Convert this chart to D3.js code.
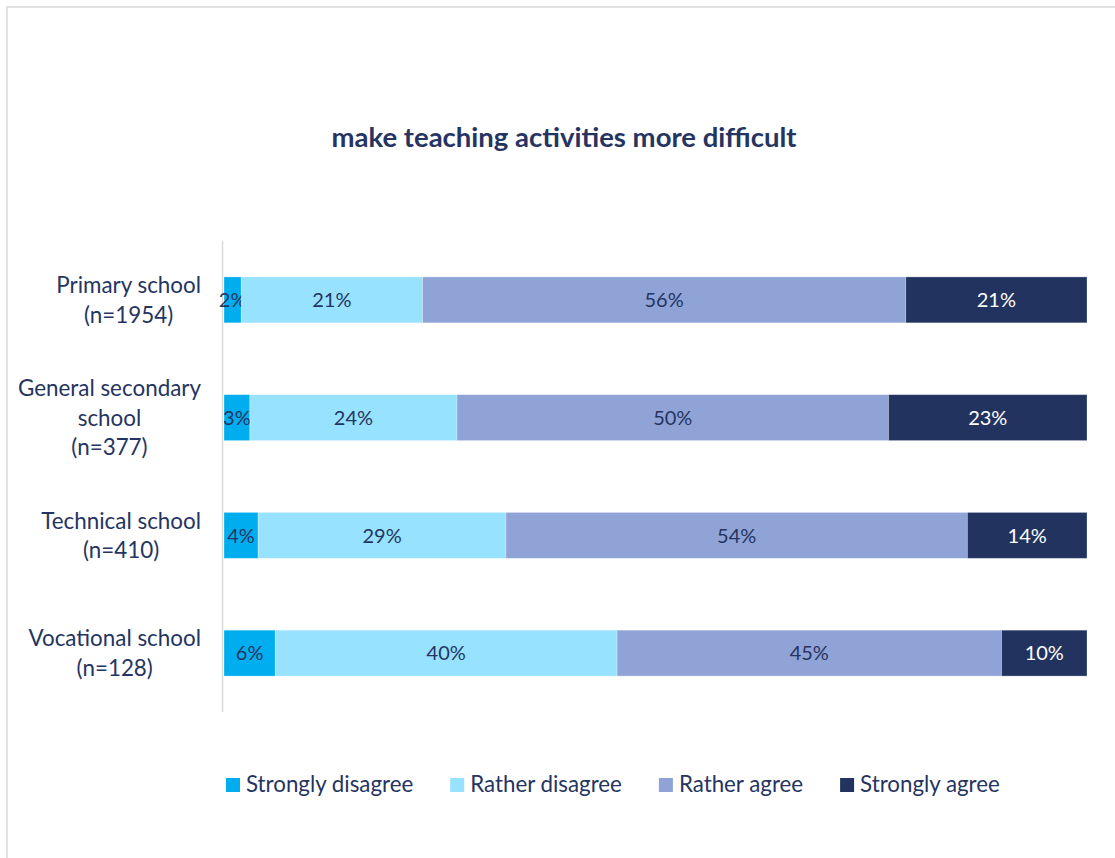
<!DOCTYPE html>
<html>
<head>
<meta charset="utf-8">
<script src="https://cdn.jsdelivr.net/npm/d3@7"></script>
<style>
  html, body { margin: 0; padding: 0; background: #ffffff; }
  svg { display: block; }
</style>
</head>
<body>
<svg id="chart" width="1115" height="858"></svg>
<script>
// Survey responses by school type (percent of respondents)
const categories = ["Primary school", "General secondary school", "Technical school", "Vocational school"];
const sampleSizes = [1954, 377, 410, 128];
const seriesNames = ["Strongly disagree", "Rather disagree", "Rather agree", "Strongly agree"];
const stronglyDisagree = [2, 3, 4, 6];
const ratherDisagree = [21, 24, 29, 40];
const ratherAgree = [56, 50, 54, 45];
const stronglyAgree = [21, 23, 14, 10];
const seriesColors = ["#00AEEF", "#97E2FF", "#8FA3D6", "#22335F"];
const labelColors = ["#253461", "#253461", "#253461", "#FFFFFF"];
const chartTitle = "make teaching activities more difficult";

const FONT = "Lato, 'Open Sans', sans-serif";
const NAVY = "#253461";

const rows = categories.map((c, i) => ({
  category: c,
  n: sampleSizes[i],
  [seriesNames[0]]: stronglyDisagree[i],
  [seriesNames[1]]: ratherDisagree[i],
  [seriesNames[2]]: ratherAgree[i],
  [seriesNames[3]]: stronglyAgree[i]
}));

const svg = d3.select("#chart");

// chart frame (continues past the right and bottom edges)
svg.append("rect")
  .attr("x", 7).attr("y", 7)
  .attr("width", 1200).attr("height", 1000)
  .attr("fill", "#fff")
  .attr("stroke", "#D9D9D9")
  .attr("stroke-width", 1.5);

// title
svg.append("text")
  .attr("x", 564).attr("y", 147)
  .attr("text-anchor", "middle")
  .attr("font-family", FONT)
  .attr("font-weight", 700)
  .attr("font-size", 27.5)
  .attr("fill", NAVY)
  .text(chartTitle);

const plot = { left: 224, right: 1087, top: 241, bottom: 712 };

const stack = d3.stack().keys(seriesNames).offset(d3.stackOffsetExpand);
const stacked = stack(rows);

const x = d3.scaleLinear().domain([0, 1]).range([plot.left, plot.right]);
const y = d3.scaleBand()
  .domain(categories)
  .range([plot.top, plot.bottom])
  .paddingInner(0.61)
  .paddingOuter(0.305);

// category axis line
svg.append("line")
  .attr("x1", plot.left - 1.5).attr("x2", plot.left - 1.5)
  .attr("y1", plot.top).attr("y2", plot.bottom)
  .attr("stroke", "#D9D9D9")
  .attr("stroke-width", 1.5);

// bars
const groups = svg.append("g").selectAll("g")
  .data(stacked)
  .join("g")
  .attr("fill", (d, i) => seriesColors[i]);

groups.selectAll("rect")
  .data(d => d)
  .join("rect")
  .attr("x", d => x(d[0]))
  .attr("y", d => y(d.data.category))
  .attr("width", d => x(d[1]) - x(d[0]))
  .attr("height", y.bandwidth())
  .attr("stroke", "rgba(255,255,255,0.35)")
  .attr("stroke-width", 0.8);

// data labels
groups.each(function (series, si) {
  d3.select(this).selectAll("text")
    .data(series)
    .join("text")
    .attr("x", d => (x(d[0]) + x(d[1])) / 2)
    .attr("y", d => y(d.data.category) + y.bandwidth() / 2)
    .attr("dy", "0.36em")
    .attr("text-anchor", "middle")
    .attr("font-family", FONT)
    .attr("font-size", 20)
    .attr("fill", labelColors[si])
    .text(d => d.data[series.key] + "%");
});

// category labels: wrapped, centred lines, block right-aligned to the axis
const labelRight = plot.left - 23;
const lineH = 29.5;
const catFont = 22.4;
const measure = svg.append("text")
  .attr("font-family", FONT).attr("font-size", catFont).attr("visibility", "hidden");
function width(s) { measure.text(s); return measure.node().getComputedTextLength(); }
function wrap(s, maxW) {
  const words = s.split(" ");
  const lines = [];
  let cur = "";
  words.forEach(w => {
    const t = cur ? cur + " " + w : w;
    if (cur && width(t) > maxW) { lines.push(cur); cur = w; } else { cur = t; }
  });
  lines.push(cur);
  return lines;
}

rows.forEach(r => {
  const lines = wrap(r.category, 195).concat(["(n=" + r.n + ")"]);
  const blockW = d3.max(lines, width);
  const cx = labelRight - blockW / 2;
  const cy = y(r.category) + y.bandwidth() / 2;
  const t = svg.append("text")
    .attr("font-family", FONT)
    .attr("font-size", catFont)
    .attr("fill", NAVY)
    .attr("text-anchor", "middle");
  lines.forEach((ln, i) => {
    t.append("tspan")
      .attr("x", cx)
      .attr("y", cy + (i - (lines.length - 1) / 2) * lineH)
      .attr("dy", "0.36em")
      .text(ln);
  });
});

// legend
const legendFont = 22.3;
const legend = svg.append("g").attr("transform", "translate(226, 785)");
let lx = 0;
seriesNames.forEach((name, i) => {
  const g = legend.append("g").attr("transform", `translate(${lx},0)`);
  g.append("rect")
    .attr("x", 0).attr("y", -7)
    .attr("width", 14).attr("height", 14)
    .attr("fill", seriesColors[i]);
  const t = g.append("text")
    .attr("x", 20).attr("y", -1)
    .attr("dy", "0.36em")
    .attr("font-family", FONT)
    .attr("font-size", legendFont)
    .attr("fill", NAVY)
    .text(name);
  lx += 20 + t.node().getComputedTextLength() + 37;
});
measure.remove();
</script>
</body>
</html>
